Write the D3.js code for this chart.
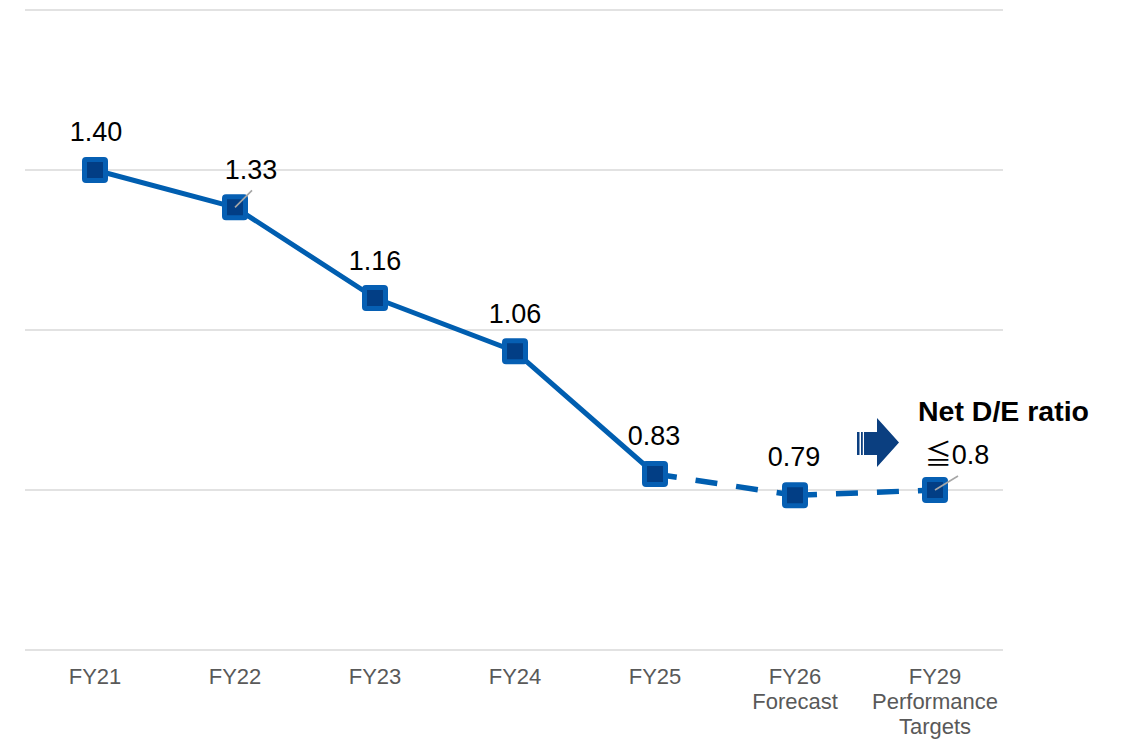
<!DOCTYPE html>
<html>
<head>
<meta charset="utf-8">
<script src="https://cdn.jsdelivr.net/npm/d3@7"></script>
<style>
  body { margin: 0; background: #fff; }
  svg { display: block; font-family: "Liberation Sans", Arial, "Noto Sans CJK JP", sans-serif; }
</style>
</head>
<body>
<div id="wrapper"></div>
<script>

// data
const categories = ["FY21", "FY22", "FY23", "FY24", "FY25", "FY26", "FY29"]
const categoryLines = [
    ["FY21"], ["FY22"], ["FY23"], ["FY24"], ["FY25"],
    ["FY26", "Forecast"],
    ["FY29", "Performance", "Targets"]
]
const values = [1.40, 1.33, 1.16, 1.06, 0.83, 0.79, 0.80]
const valueLabels = ["1.40", "1.33", "1.16", "1.06", "0.83", "0.79", "≦0.8"]
const yTicks = [0.5, 0.8, 1.1, 1.4, 1.7]
const actualCount = 5   // FY21..FY25 solid, rest dashed
const targetTitle = "Net D/E ratio"

function draw(){

    // 1. dimensions
    const dimensions = {
        width: 1122,
        height: 741,
        left: 25,
        right: 1005,
        top: 10,
        bottom: 650,
    }

    // label nudges (dx, dy from the point, baseline)
    const labelNudge = [[1, -29], [16, -28], [0, -28], [0, -28], [-1, -29], [-1, -29], [22, -26]]
    const leaders = {1: [17, -17], 6: [23, -14]}

    const svg = d3.select("#wrapper")
        .append("svg")
        .attr("width", dimensions.width)
        .attr("height", dimensions.height)

    // 2. scales
    const xScale = d3.scaleBand()
        .domain(categories)
        .range([dimensions.left, dimensions.right])
    const cx = d => xScale(d) + xScale.bandwidth() / 2

    const yScale = d3.scaleLinear()
        .domain([0.5, 1.7])
        .range([dimensions.bottom, dimensions.top])

    // gridlines
    svg.append("g")
        .attr("class", "grid")
        .selectAll("line")
        .data(yTicks)
        .join("line")
        .attr("x1", dimensions.left)
        .attr("x2", dimensions.right - 2)
        .attr("y1", d => yScale(d))
        .attr("y2", d => yScale(d))
        .attr("stroke", "#d9d9d9")
        .attr("stroke-width", 1.6)

    // x axis labels
    const xAxis = svg.append("g")
        .attr("class", "x-axis")
        .attr("transform", `translate(0, ${dimensions.bottom})`)
        .call(d3.axisBottom(xScale).tickSize(0).tickFormat(""))
    xAxis.select(".domain").remove()

    xAxis.selectAll(".tick").each(function(d, i){
        const t = d3.select(this).append("text")
            .attr("fill", "#595959")
            .attr("font-size", 22)
            .attr("text-anchor", "middle")
            .attr("y", 34)
        t.selectAll("tspan")
            .data(categoryLines[i])
            .join("tspan")
            .attr("x", 0)
            .attr("dy", (l, j) => j === 0 ? 0 : 25)
            .text(l => l)
    })

    const points = categories.map((c, i) => ({cat: c, value: values[i], i}))

    const line = d3.line()
        .x(d => cx(d.cat))
        .y(d => yScale(d.value))

    // solid part
    svg.append("path")
        .datum(points.slice(0, actualCount))
        .attr("d", line)
        .attr("fill", "none")
        .attr("stroke", "#005EB0")
        .attr("stroke-width", 5)
        .attr("stroke-linejoin", "round")

    // dashed part, one segment at a time
    for (let i = actualCount - 1; i < points.length - 1; i++) {
        svg.append("path")
            .datum([points[i], points[i + 1]])
            .attr("d", line)
            .attr("fill", "none")
            .attr("stroke", "#005EB0")
            .attr("stroke-width", 5.5)
            .attr("stroke-dasharray", "22,19")
    }

    // markers
    svg.append("g")
        .selectAll("rect")
        .data(points)
        .join("rect")
        .attr("x", d => cx(d.cat) - 10.5)
        .attr("y", d => yScale(d.value) - 10.5)
        .attr("width", 21)
        .attr("height", 21)
        .attr("rx", 1.5)
        .attr("fill", "#023E85")
        .attr("stroke", "#065FB3")
        .attr("stroke-width", 5)

    // leader lines
    svg.append("g")
        .selectAll("line")
        .data(points.filter(d => leaders[d.i]))
        .join("line")
        .attr("x1", d => cx(d.cat))
        .attr("y1", d => yScale(d.value))
        .attr("x2", d => cx(d.cat) + leaders[d.i][0])
        .attr("y2", d => yScale(d.value) + leaders[d.i][1])
        .attr("stroke", "#a6a6a6")
        .attr("stroke-width", 1.6)

    // value labels
    svg.append("g")
        .selectAll("text")
        .data(points)
        .join("text")
        .attr("x", d => cx(d.cat) + labelNudge[d.i][0])
        .attr("y", d => yScale(d.value) + labelNudge[d.i][1])
        .attr("text-anchor", "middle")
        .attr("font-size", 27)
        .attr("fill", "#000")
        .text(d => valueLabels[d.i])

    // target title + arrow
    const last = points[points.length - 1]
    const tx = cx(last.cat), ty = yScale(last.value)

    svg.append("text")
        .attr("x", tx - 17)
        .attr("y", ty - 69)
        .attr("font-size", 28.5)
        .attr("font-weight", "bold")
        .attr("fill", "#000")
        .text(targetTitle)

    const arrow = svg.append("g")
        .attr("transform", `translate(${tx - 78}, ${ty - 72})`)
        .attr("fill", "#0B3F80")
    arrow.append("rect").attr("x", 0).attr("y", 14).attr("width", 2.5).attr("height", 23)
    arrow.append("rect").attr("x", 4).attr("y", 14).attr("width", 1.8).attr("height", 23)
    arrow.append("path")
        .attr("d", "M7,14 L20,14 L20,0 L42,24.5 L20,49 L20,37 L7,37 Z")
}

draw()
</script>
</body>
</html>
